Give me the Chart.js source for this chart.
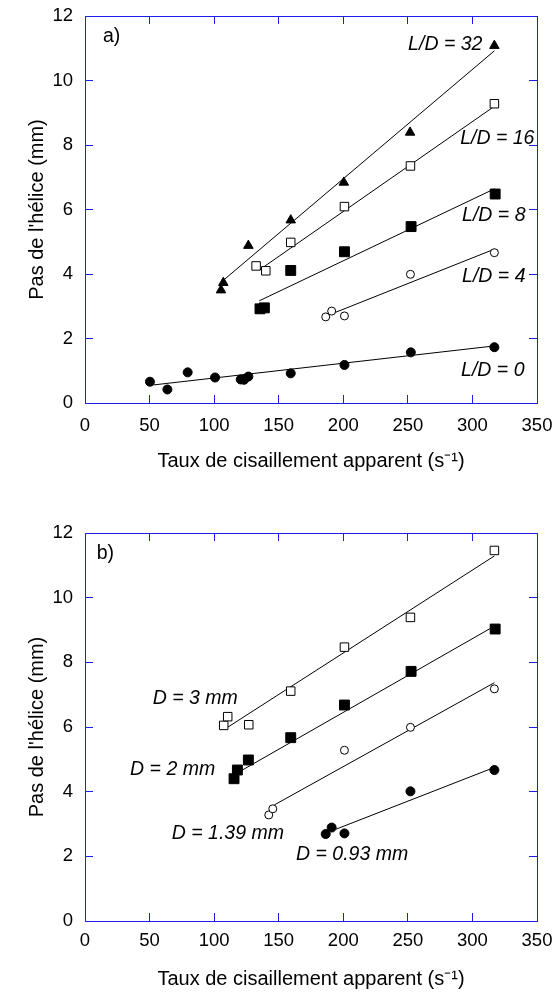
<!DOCTYPE html>
<html><head><meta charset="utf-8">
<script src="https://cdn.jsdelivr.net/npm/chart.js@4/dist/chart.umd.min.js"></script>
<style>html,body{margin:0;padding:0;background:#fff;width:556px;height:992px;overflow:hidden}canvas{position:absolute;left:0}</style>
</head><body>
<canvas id="cA" width="556" height="480" style="top:0px"></canvas>
<canvas id="cB" width="556" height="512" style="top:480px"></canvas>
<script>
// ---------- DATA (chart a: helix pitch vs apparent shear rate, per L/D) ----------
const xTicksLabelStep = 50;
const yTicksLabelStep = 2;
const xTitle = "Taux de cisaillement apparent (s\u207B\u00B9)";
const yTitle = "Pas de l'h\u00E9lice (mm)";

const ld32Shear = [105.3, 107.1, 126.5, 159.3, 200.4, 251.7, 317.0];
const ld32Pitch = [3.50, 3.73, 4.88, 5.67, 6.84, 8.39, 11.08];
const ld16Shear = [132.5, 140.0, 159.3, 200.9, 252.0, 317.0];
const ld16Pitch = [4.25, 4.10, 4.98, 6.09, 7.35, 9.28];
const ld8Shear = [135.5, 138.9, 159.3, 200.9, 252.5, 317.6];
const ld8Pitch = [2.92, 2.95, 4.11, 4.69, 5.47, 6.48];
const ld4Shear = [186.4, 191.0, 200.9, 252.0, 317.0];
const ld4Pitch = [2.67, 2.85, 2.70, 3.99, 4.66];
const ld0Shear = [50.3, 63.8, 79.5, 100.7, 120.6, 123.2, 126.5, 159.3, 200.9, 252.3, 317.0];
const ld0Pitch = [0.66, 0.42, 0.95, 0.79, 0.73, 0.72, 0.82, 0.92, 1.18, 1.57, 1.73];

// fitted lines (end points)
const fit32Shear = [107.0, 317.0], fit32Pitch = [3.80, 10.92];
const fit16Shear = [135.5, 317.0], fit16Pitch = [4.14, 9.20];
const fit8Shear = [135.0, 317.0], fit8Pitch = [3.17, 6.64];
const fit4Shear = [192.0, 317.0], fit4Pitch = [2.78, 4.77];
const fit0Shear = [53.0, 317.0], fit0Pitch = [0.56, 1.77];

// ---------- DATA (chart b: per die diameter D) ----------
const d3Shear = [107.4, 110.5, 126.8, 159.3, 200.9, 252.0, 317.0];
const d3Pitch = [6.05, 6.32, 6.07, 7.11, 8.47, 9.39, 11.46];
const d2Shear = [115.4, 118.0, 126.5, 159.3, 200.9, 252.5, 317.6];
const d2Pitch = [4.40, 4.67, 4.98, 5.67, 6.68, 7.72, 9.03];
const d139Shear = [142.3, 145.4, 200.9, 252.0, 317.0];
const d139Pitch = [3.28, 3.47, 5.28, 5.99, 7.18];
const d093Shear = [186.4, 191.0, 200.9, 252.0, 317.0];
const d093Pitch = [2.69, 2.89, 2.71, 4.01, 4.67];

const fitD3Shear = [110.0, 317.0], fitD3Pitch = [5.98, 11.29];
const fitD2Shear = [117.5, 317.0], fitD2Pitch = [4.57, 9.12];
const fitD139Shear = [146.6, 317.0], fitD139Pitch = [3.59, 7.37];
const fitD093Shear = [194.4, 317.0], fitD093Pitch = [2.84, 4.75];

// annotation texts and their anchors in data units
const labelsA = [
  {text: "a)", x: 13.9, y: 11.35, italic: false},
  {text: "L/D = 32", x: 250.2, y: 11.1, italic: true},
  {text: "L/D = 16", x: 290.5, y: 8.19, italic: true},
  {text: "L/D = 8", x: 292.0, y: 5.80, italic: true},
  {text: "L/D = 4", x: 292.0, y: 3.91, italic: true},
  {text: "L/D = 0", x: 291.2, y: 0.99, italic: true}
];
const labelsB = [
  {text: "b)", x: 9.1, y: 11.35, italic: false},
  {text: "D = 3 mm", x: 52.4, y: 6.87, italic: true},
  {text: "D = 2 mm", x: 34.9, y: 4.67, italic: true},
  {text: "D = 1.39 mm", x: 67.2, y: 2.69, italic: true},
  {text: "D = 0.93 mm", x: 163.4, y: 2.04, italic: true}
];

// ---------- helpers ----------
const FONT = "'Liberation Sans', Arial, Helvetica, sans-serif";
const BLUE = 'rgb(30,30,240)';
const zip = (xs, ys) => xs.map((x, i) => ({x: x, y: ys[i]}));

function markers(xs, ys, style, filled, radius) {
  return {
    type: 'scatter', data: zip(xs, ys), order: 1, showLine: false,
    pointStyle: style, pointRadius: radius, pointHoverRadius: radius,
    backgroundColor: filled ? '#000' : '#fff', borderColor: '#000', borderWidth: 1
  };
}
function fitLine(xs, ys) {
  return {
    type: 'line', data: zip(xs, ys), order: 2, showLine: true,
    borderColor: '#000', borderWidth: 1, pointRadius: 0, fill: false, tension: 0
  };
}

const textPlugin = {
  id: 'texts',
  afterDatasetsDraw(chart, args, opts) {
    const ctx = chart.ctx, sx = chart.scales.x, sy = chart.scales.y;
    ctx.save();
    ctx.fillStyle = '#000';
    ctx.textBaseline = 'middle';
    ctx.textAlign = 'left';
    for (const l of opts.items) {
      ctx.font = (l.italic ? 'italic ' : '') + '19.5px ' + FONT;
      ctx.fillText(l.text, sx.getPixelForValue(l.x), sy.getPixelForValue(l.y));
    }
    ctx.restore();
  }
};

function noPad(s) { s.paddingLeft = 0; s.paddingRight = 0; s.paddingTop = 0; s.paddingBottom = 0; }

function makeScales(xTickPad, xAxisHeight, xTitlePad) {
  const grid = {display: true, drawOnChartArea: false, drawTicks: true, tickLength: -8, color: BLUE, tickColor: BLUE, lineWidth: 1, tickWidth: 1};
  const border = {display: true, color: BLUE, width: 1};
  const tickFont = {family: FONT, size: 18.5};
  return {
    x: {type: 'linear', position: 'bottom', min: 0, max: 350,
      ticks: {stepSize: xTicksLabelStep, font: tickFont, color: '#000', padding: xTickPad, maxRotation: 0, autoSkip: false},
      grid: grid, border: border,
      title: {display: true, text: xTitle, color: '#000', font: {family: FONT, size: 20}, padding: {top: 0, bottom: xTitlePad}},
      afterFit: s => { s.height = xAxisHeight; noPad(s); }},
    x2: {type: 'linear', axis: 'x', position: 'top', min: 0, max: 350,
      ticks: {display: false, stepSize: xTicksLabelStep},
      grid: grid, border: border,
      afterFit: s => { s.height = 0; noPad(s); }},
    y: {type: 'linear', position: 'left', min: 0, max: 12,
      ticks: {stepSize: yTicksLabelStep, font: tickFont, color: '#000', padding: 20},
      grid: grid, border: border,
      title: {display: true, text: yTitle, color: '#000', font: {family: FONT, size: 20}, padding: {top: 25, bottom: 0}},
      afterFit: s => { s.width = 85; noPad(s); }},
    y2: {type: 'linear', axis: 'y', position: 'right', min: 0, max: 12,
      ticks: {display: false, stepSize: yTicksLabelStep},
      grid: grid, border: border,
      afterFit: s => { s.width = 0; noPad(s); }}
  };
}

function makeChart(id, datasets, labels, padTop, xTickPad, xAxisHeight, xTitlePad) {
  return new Chart(document.getElementById(id), {
    type: 'scatter',
    data: {datasets: datasets},
    options: {
      responsive: false, animation: false, devicePixelRatio: 1,
      layout: {padding: {top: padTop, right: 19, bottom: 0, left: 0}},
      plugins: {legend: {display: false}, tooltip: {enabled: false}, texts: {items: labels}},
      scales: makeScales(xTickPad, xAxisHeight, xTitlePad)
    },
    plugins: [textPlugin]
  });
}

makeChart('cA', [
  fitLine(fit32Shear, fit32Pitch), fitLine(fit16Shear, fit16Pitch), fitLine(fit8Shear, fit8Pitch),
  fitLine(fit4Shear, fit4Pitch), fitLine(fit0Shear, fit0Pitch),
  markers(ld32Shear, ld32Pitch, 'triangle', true, 5.5),
  markers(ld16Shear, ld16Pitch, 'rect', false, 6),
  markers(ld8Shear, ld8Pitch, 'rect', true, 7),
  markers(ld4Shear, ld4Pitch, 'circle', false, 4),
  markers(ld0Shear, ld0Pitch, 'circle', true, 4.5)
], labelsA, 16, 20, 77, 7);

makeChart('cB', [
  fitLine(fitD3Shear, fitD3Pitch), fitLine(fitD2Shear, fitD2Pitch),
  fitLine(fitD139Shear, fitD139Pitch), fitLine(fitD093Shear, fitD093Pitch),
  markers(d3Shear, d3Pitch, 'rect', false, 6),
  markers(d2Shear, d2Pitch, 'rect', true, 7),
  markers(d139Shear, d139Pitch, 'circle', false, 4),
  markers(d093Shear, d093Pitch, 'circle', true, 4.5)
], labelsB, 53, 17, 71, 1);
</script>
</body></html>
